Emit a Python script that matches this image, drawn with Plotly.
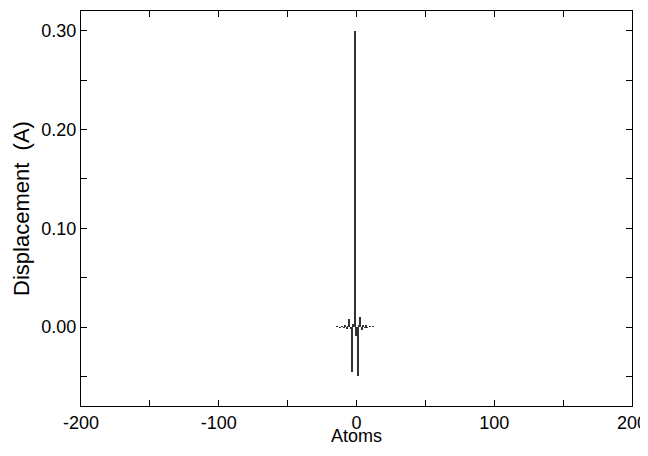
import plotly.graph_objects as go

# Atom index relative to the defect site and its displacement (A)
atoms = [-14, -12, -10, -9, -8, -7, -6, -5, -4, -3, -2, -1, 0, 1, 2, 3, 4, 5, 6, 7, 8, 10, 12]
displacement = [0.0005, -0.001, 0.001, -0.001, 0.0015, -0.002, 0.001, 0.008, -0.002, -0.046,
                0.003, 0.300, -0.009, -0.050, 0.002, 0.010, -0.003, 0.002, -0.001, 0.0015,
                -0.001, 0.001, 0.0005]

x_ticks = [-200, -100, 0, 100, 200]
y_ticks = [0.0, 0.1, 0.2, 0.3]

fig = go.Figure()
fig.add_trace(go.Bar(
    x=atoms,
    y=displacement,
    width=1.1,
    marker=dict(color="#333333", line=dict(width=0)),
))

axis_style = dict(
    showgrid=False, zeroline=False, showline=True, linecolor="black", linewidth=1,
    mirror="ticks", ticks="inside", ticklen=6, tickcolor="black", tickwidth=1,
    tickfont=dict(size=18, color="black"), automargin=False,
)

fig.update_xaxes(
    range=[-200, 200], tickvals=x_ticks, ticktext=[str(v) for v in x_ticks],
    minor=dict(ticks="inside", ticklen=6, dtick=50, tick0=0, tickcolor="black"),
    **axis_style,
)
fig.update_yaxes(
    range=[-0.08, 0.32], tickvals=y_ticks, ticktext=[f"{v:.2f}" for v in y_ticks],
    minor=dict(ticks="inside", ticklen=6, dtick=0.05, tick0=0, tickcolor="black"),
    title=dict(text="Displacement  (A)", font=dict(size=22, color="black"), standoff=5),
    **axis_style,
)

# x title as annotation, kept inside the bottom edge
fig.add_annotation(
    text="Atoms", x=0.5, y=0, xref="paper", yref="paper",
    xanchor="center", yanchor="bottom", yshift=-42, showarrow=False,
    font=dict(size=18, color="black"),
)

# page body adds an 8px offset, so the figure is smaller and margins shifted
fig.update_layout(
    width=640, height=440,
    margin=dict(l=73, r=16, t=3, b=42),
    paper_bgcolor="white", plot_bgcolor="white",
    font=dict(family="Liberation Sans, Arial, sans-serif", size=18, color="black"),
    showlegend=False,
    bargap=0,
)

fig.write_html("out.html")
